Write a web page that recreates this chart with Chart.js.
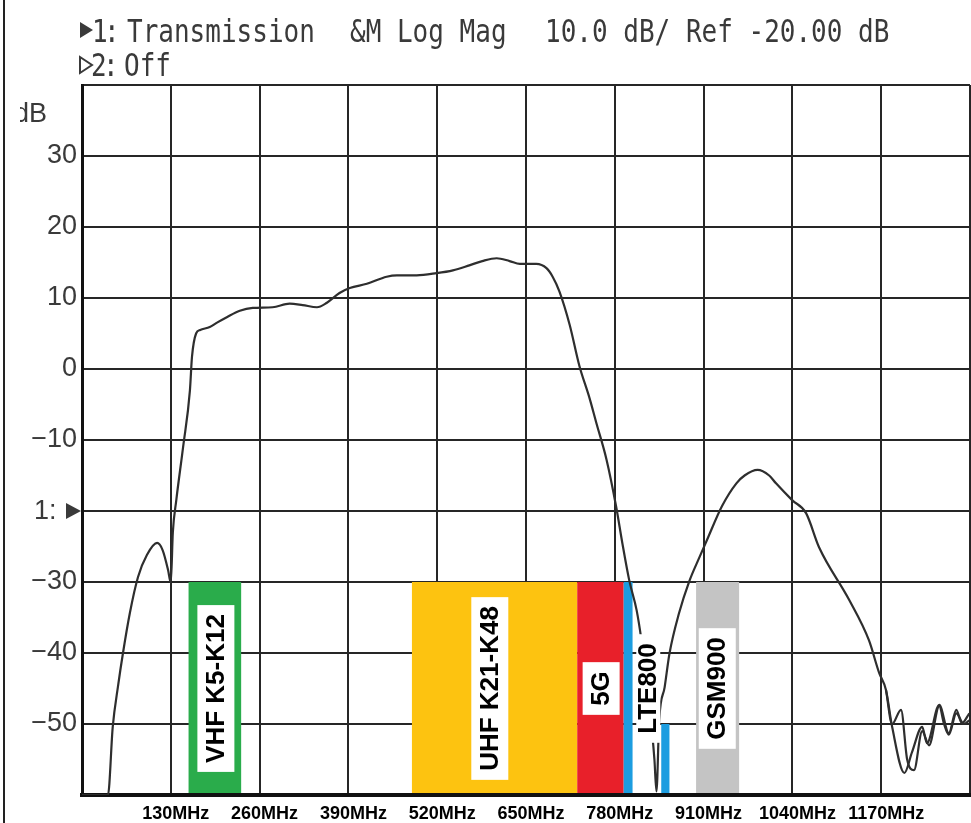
<!DOCTYPE html>
<html>
<head>
<meta charset="utf-8">
<script src="https://cdn.jsdelivr.net/npm/chart.js@4.4.1/dist/chart.umd.min.js"></script>
<style>
    html, body { margin: 0; padding: 0; background: #fff; }
    #wrap { width: 971px; height: 823px; position: relative; }
</style>
</head>
<body>
<div id="wrap"><canvas id="graphic-trans"></canvas></div>
<script>
// start: data
const freqMHz = [0, 38, 45, 53, 60, 70, 82, 95, 110, 118, 126, 130, 133, 138, 148, 158, 161, 167, 173, 187,
    197, 212, 231, 250, 279, 304, 323, 344, 358, 377, 392, 417, 446, 461, 490, 519, 543, 567, 586, 607,
    626, 641, 665, 680, 689, 699, 714, 728, 743, 753, 768, 782, 791, 801, 812, 819, 831, 838, 841, 845,
    853, 860, 874, 889, 904, 914, 937, 958, 970, 989, 1006, 1016, 1040, 1060, 1079, 1123, 1152, 1167, 1177, 1186,
    1204, 1215, 1230, 1237, 1255, 1269, 1280, 1288, 1299]
const gainDb = [-60, -60, -50.4, -44.5, -40, -34.4, -29.3, -26.2, -24.5, -25.5, -28.3, -30.1, -23, -18.5, -11, -3, 1.7, 5, 5.5, 5.9,
    6.5, 7.3, 8.2, 8.6, 8.7, 9.2, 9.0, 8.7, 9.3, 10.7, 11.4, 12.0, 13.0, 13.2, 13.2, 13.5, 13.9, 14.6, 15.2, 15.6,
    15.2, 14.8, 14.8, 14.2, 13.0, 10.9, 6.2, 0.5, -4.1, -7.6, -12.8, -19.4, -24.5, -29.7, -34, -38.2, -47.6, -55, -59.5, -49.4,
    -44.8, -40.1, -34.4, -29.9, -26.5, -24.3, -19.3, -16.1, -15.0, -14.2, -15.0, -16.1, -18.5, -20.3, -25.1, -32.5, -38.2, -42.8, -45.2, -50.4,
    -56.9, -54, -50.4, -52.7, -47.3, -51.3, -48, -49.9, -48.5]

// second sweep, only visible in the noisy tail
const tailFreq = [1177, 1186, 1199, 1208, 1218, 1230, 1240, 1255, 1262, 1269, 1280, 1291, 1299]
const tailDb = [-45.2, -50, -48, -55, -56.5, -51, -53, -47.5, -50, -51.5, -48.5, -50, -49.5]

const xTicks = [130, 260, 390, 520, 650, 780, 910, 1040, 1170]
const yTicks = [30, 20, 10, 0, -10, -30, -40, -50]

// frequency bands (MHz) with their top level (dB)
const bandStart = [156, 483, 725, 793, 848, 899]
const bandEnd = [233, 725, 793, 806, 860, 962]
const bandTop = [-30, -30, -30, -30, -50, -30]
const bandColors = ['#2aac4b', '#fdc310', '#e8202a', '#1c9de0', '#1c9de0', '#c4c4c4']

const bandLabels = ['VHF K5-K12', 'UHF K21-K48', '5G', 'LTE800', 'GSM900']
const bandLabelMHz = [196, 597, 760, 829, 930]
// end: data

function toPoints(xs, ys) {
    const pts = []
    for (let i = 0; i < xs.length; i++) {
        pts.push({ x: xs[i], y: ys[i] })
    }
    return pts
}

// tall, thin analyser-style text
function tallText(ctx, text, x, y) {
    ctx.save()
    ctx.translate(x, y)
    ctx.scale(1, 1.22)
    ctx.fillText(text, 0, 0)
    ctx.restore()
}

const bandsPlugin = {
    id: 'bands',
    beforeDatasetsDraw(chart) {
        const ctx = chart.ctx
        const xs = chart.scales.x
        const ys = chart.scales.y
        const bottom = ys.getPixelForValue(ys.min) - 2
        ctx.save()
        for (let i = 0; i < bandStart.length; i++) {
            const x1 = xs.getPixelForValue(bandStart[i])
            const x2 = xs.getPixelForValue(bandEnd[i])
            const y1 = ys.getPixelForValue(bandTop[i])
            ctx.fillStyle = bandColors[i]
            ctx.fillRect(x1, y1, x2 - x1, bottom - y1)
        }
        ctx.restore()
    },
    afterDatasetsDraw(chart) {
        const ctx = chart.ctx
        const xs = chart.scales.x
        const ys = chart.scales.y
        const cy = ys.getPixelForValue(-45)
        ctx.save()
        ctx.font = 'bold 26px "Liberation Sans", Arial, sans-serif'
        for (let i = 0; i < bandLabels.length; i++) {
            const cx = xs.getPixelForValue(bandLabelMHz[i])
            const w = ctx.measureText(bandLabels[i]).width
            const boxH = w + 18
            const boxW = bandLabels[i] === 'LTE800' ? 24 : 37
            ctx.fillStyle = '#fff'
            ctx.fillRect(cx - boxW / 2, cy - boxH / 2, boxW, boxH)
            ctx.translate(cx, cy)
            ctx.rotate(-Math.PI / 2)
            ctx.fillStyle = '#000'
            ctx.textAlign = 'center'
            ctx.textBaseline = 'middle'
            ctx.fillText(bandLabels[i], 0, 1)
            ctx.setTransform(1, 0, 0, 1, 0, 0)
        }
        ctx.restore()
    }
}

const headerPlugin = {
    id: 'header',
    afterDraw(chart) {
        const ctx = chart.ctx
        const ys = chart.scales.y
        ctx.save()
        // frame line on the left of the scan
        ctx.fillStyle = '#222'
        ctx.fillRect(3, 0, 2, 823)

        ctx.fillStyle = '#3a3a3a'
        ctx.textBaseline = 'alphabetic'
        ctx.font = '26px "DejaVu Sans Mono", monospace'
        // filled marker for trace 1
        ctx.beginPath()
        ctx.moveTo(80, 22)
        ctx.lineTo(93, 30)
        ctx.lineTo(80, 38)
        ctx.closePath()
        ctx.fill()
        tallText(ctx, '1', 92, 42)
        tallText(ctx, ':', 104, 42)
        tallText(ctx, 'Transmission', 127, 42)
        tallText(ctx, '&M Log Mag', 350, 42)
        tallText(ctx, '10.0 dB/ Ref -20.00 dB', 545, 42)
        // hollow marker for trace 2
        ctx.strokeStyle = '#3a3a3a'
        ctx.lineWidth = 2
        ctx.beginPath()
        ctx.moveTo(80, 57)
        ctx.lineTo(92, 65)
        ctx.lineTo(80, 73)
        ctx.closePath()
        ctx.stroke()
        tallText(ctx, '2', 91, 76)
        tallText(ctx, ':', 103, 76)
        tallText(ctx, 'Off', 124, 76)

        // unit label, cut at the left edge like the scan
        ctx.font = '27px "Liberation Sans", Arial, sans-serif'
        ctx.beginPath()
        ctx.rect(20, 90, 60, 40)
        ctx.clip()
        ctx.fillText('dB', 14, 122)
        ctx.restore()

        // reference marker "1:" on the -20 dB line
        ctx.save()
        const yRef = ys.getPixelForValue(-20)
        ctx.fillStyle = '#3a3a3a'
        ctx.font = '27px "Liberation Sans", Arial, sans-serif'
        ctx.textBaseline = 'middle'
        ctx.fillText('1:', 34, yRef + 1)
        ctx.beginPath()
        ctx.moveTo(66, yRef - 8)
        ctx.lineTo(81, yRef)
        ctx.lineTo(66, yRef + 8)
        ctx.closePath()
        ctx.fill()
        ctx.restore()
    }
}

new Chart(document.getElementById('graphic-trans'), {
    type: 'scatter',
    data: {
        datasets: [
            {
                label: 'Transmission',
                data: toPoints(freqMHz, gainDb),
                showLine: true,
                borderColor: '#2e2e2e',
                borderWidth: 2.2,
                pointRadius: 0,
                cubicInterpolationMode: 'monotone'
            },
            {
                label: 'Transmission 2',
                data: toPoints(tailFreq, tailDb),
                showLine: true,
                borderColor: '#2e2e2e',
                borderWidth: 2.2,
                pointRadius: 0,
                cubicInterpolationMode: 'monotone'
            }
        ]
    },
    options: {
        responsive: true,
        maintainAspectRatio: false,
        animation: false,
        layout: {
            padding: { top: 85, right: 1, left: 0, bottom: 0 }
        },
        plugins: {
            legend: { display: false },
            tooltip: { enabled: false }
        },
        scales: {
            x: {
                type: 'linear',
                min: 0,
                max: 1300,
                afterFit: function (scale) {
                    scale.height = 28
                    scale.paddingLeft = 0
                    scale.paddingRight = 0
                },
                afterBuildTicks: function (scale) {
                    const t = [{ value: 0 }]
                    xTicks.forEach(function (v) { t.push({ value: v }) })
                    t.push({ value: 1300 })
                    scale.ticks = t
                },
                ticks: {
                    autoSkip: false,
                    maxRotation: 0,
                    padding: 8,
                    labelOffset: 5,
                    color: '#000',
                    font: { family: '"Liberation Sans", Arial, sans-serif', size: 18, weight: 'bold' },
                    callback: function (v) {
                        return xTicks.indexOf(v) >= 0 ? v + 'MHz' : ''
                    }
                },
                grid: { color: '#262626', lineWidth: 2, drawTicks: false },
                border: { color: '#111', width: 4 }
            },
            y: {
                min: -60,
                max: 40,
                afterFit: function (scale) { scale.width = 82 },
                afterBuildTicks: function (scale) {
                    const t = []
                    for (let v = -60; v <= 40; v += 10) t.push({ value: v })
                    scale.ticks = t
                },
                ticks: {
                    padding: 5,
                    color: '#3a3a3a',
                    font: { family: '"Liberation Sans", Arial, sans-serif', size: 27 },
                    callback: function (v) {
                        if (yTicks.indexOf(v) < 0) return ''
                        return v < 0 ? '\u2212' + Math.abs(v) : String(v)
                    }
                },
                grid: { color: '#262626', lineWidth: 2, drawTicks: false },
                border: { color: '#111', width: 3 }
            }
        }
    },
    plugins: [bandsPlugin, headerPlugin]
});
</script>
</body>
</html>
